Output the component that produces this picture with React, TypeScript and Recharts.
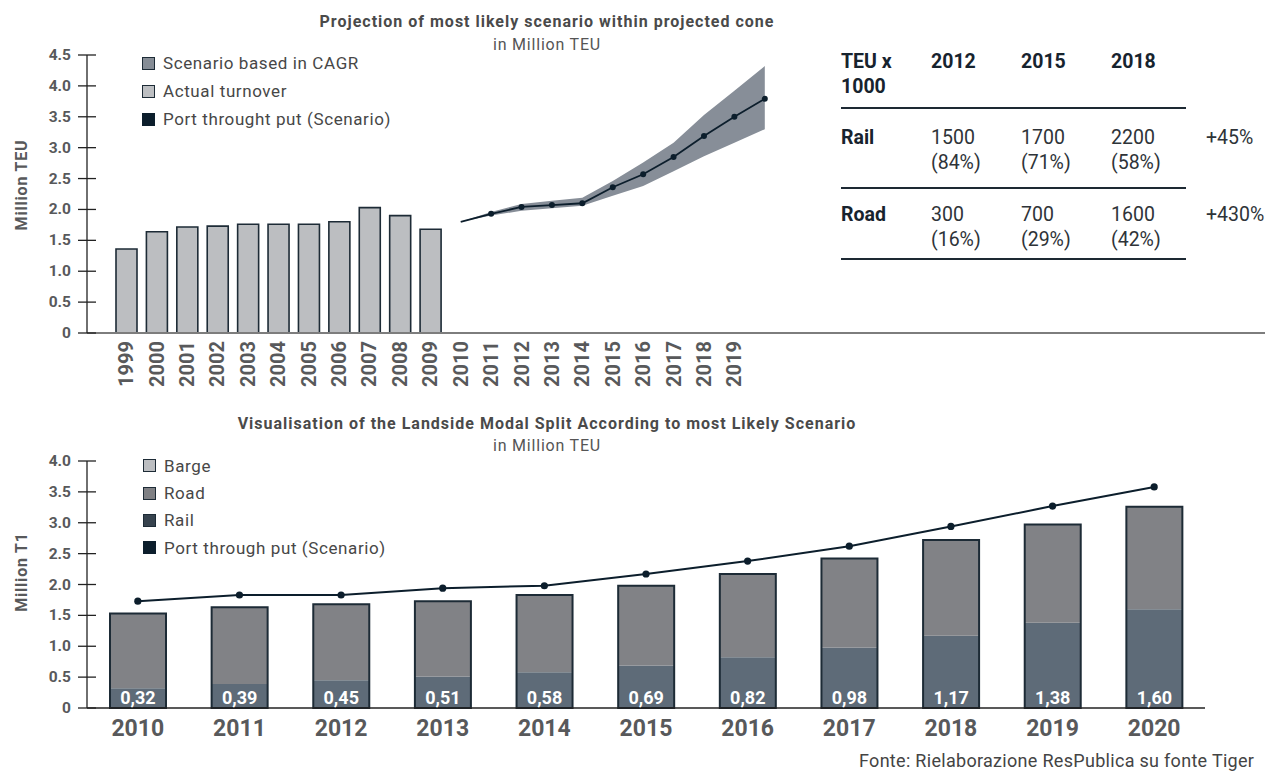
import React from 'react';
import { ComposedChart, Bar, Line, Area, XAxis, YAxis, Legend, LabelList } from 'recharts';

const FONT = 'Roboto, "Liberation Sans", sans-serif';
const AXIS_TEXT = '#58595b';
const NAVY = '#0c1e2c';
const OUTLINE = '#1d2b36';

// ---------- Top chart data ----------
const topTitle = 'Projection of most likely scenario within projected cone';
const topSubtitle = 'in Million TEU';
const topYLabel = 'Million TEU';
const topYears = ['1999', '2000', '2001', '2002', '2003', '2004', '2005', '2006', '2007', '2008', '2009', '2010', '2011', '2012', '2013', '2014', '2015', '2016', '2017', '2018', '2019', '2020'];
const topTickLabels = ['1999', '2000', '2001', '2002', '2003', '2004', '2005', '2006', '2007', '2008', '2009', '2010', '2011', '2012', '2013', '2014', '2015', '2016', '2017', '2018', '2019'];
const actualYears = ['1999', '2000', '2001', '2002', '2003', '2004', '2005', '2006', '2007', '2008', '2009'];
const actualTurnover = [1.36, 1.64, 1.715, 1.73, 1.76, 1.76, 1.76, 1.8, 2.03, 1.9, 1.68];
const projectionYears = ['2010', '2011', '2012', '2013', '2014', '2015', '2016', '2017', '2018', '2019', '2020'];
const portThroughputTop = [1.8, 1.93, 2.04, 2.07, 2.1, 2.36, 2.57, 2.85, 3.19, 3.5, 3.79];
const coneLow = [1.8, 1.9, 1.98, 2.02, 2.06, 2.22, 2.38, 2.62, 2.86, 3.08, 3.3];
const coneHigh = [1.8, 1.96, 2.09, 2.14, 2.19, 2.46, 2.76, 3.08, 3.53, 3.92, 4.32];
const topYTicks = [0, 0.5, 1, 1.5, 2, 2.5, 3, 3.5, 4, 4.5];
const topLegendNames = ['Scenario based in CAGR', 'Actual turnover', 'Port throught put (Scenario)'];
const topLegendColors = ['#868d96', '#bdbfc2', NAVY];

// ---------- Table data ----------
const tableCorner = ['TEU x', '1000'];
const tableYears = ['2012', '2015', '2018'];
const tableRowLabels = ['Rail', 'Road'];
const tableValues = [[1500, 1700, 2200], [300, 700, 1600]];
const tableShares = [[84, 71, 58], [16, 29, 42]];
const tableChanges = ['+45%', '+430%'];

// ---------- Bottom chart data ----------
const bottomTitle = 'Visualisation of the Landside Modal Split According to most Likely Scenario';
const bottomSubtitle = 'in Million TEU';
const bottomYLabel = 'Million T1';
const splitYears = ['2010', '2011', '2012', '2013', '2014', '2015', '2016', '2017', '2018', '2019', '2020'];
const railValues = [0.32, 0.39, 0.45, 0.51, 0.58, 0.69, 0.82, 0.98, 1.17, 1.38, 1.6];
const roadValues = [1.21, 1.24, 1.23, 1.22, 1.25, 1.29, 1.35, 1.44, 1.55, 1.59, 1.66];
const bargeValues = [0, 0, 0, 0, 0, 0, 0, 0, 0, 0, 0];
const portThroughputBottom = [1.73, 1.83, 1.83, 1.94, 1.98, 2.17, 2.38, 2.62, 2.94, 3.27, 3.58];
const bottomYTicks = [0, 0.5, 1, 1.5, 2, 2.5, 3, 3.5, 4];
const bottomLegendNames = ['Barge', 'Road', 'Rail', 'Port through put (Scenario)'];
const bottomLegendColors = ['#bcbec1', '#7f8084', '#37434e', NAVY];
const sourceText = 'Fonte: Rielaborazione ResPublica su fonte Tiger';

const topData = topYears.map((year) => {
  const a = actualYears.indexOf(year);
  const p = projectionYears.indexOf(year);
  return {
    year,
    actual: a >= 0 ? actualTurnover[a] : null,
    port: p >= 0 ? portThroughputTop[p] : null,
    cone: p >= 0 ? [coneLow[p], coneHigh[p]] : null,
  };
});

const bottomData = splitYears.map((year, i) => ({
  year,
  rail: railValues[i],
  road: roadValues[i],
  barge: bargeValues[i],
  total: railValues[i] + roadValues[i] + bargeValues[i],
  port: portThroughputBottom[i],
}));

const makeYTick = (lineColor: string) => (props: any) => {
  const { x, y, payload } = props;
  const v = payload.value as number;
  const label = v === 0 ? '0' : v.toFixed(1);
  return (
    <g>
      <line x1={x - 9} x2={x + 9} y1={y} y2={y} stroke={lineColor} strokeWidth={1.3} />
      <text x={x - 16} y={y} textAnchor="end" dominantBaseline="central" fontFamily={FONT} fontWeight={700} fontSize={15.5} fill={AXIS_TEXT}>
        {label}
      </text>
    </g>
  );
};

const TopXTick = (props: any) => {
  const { x, y, payload } = props;
  if (!topTickLabels.includes(payload.value)) return <g />;
  return (
    <text transform={`translate(${x},${y + 8}) rotate(-90)`} textAnchor="end" dominantBaseline="central" fontFamily={FONT} fontWeight={700} fontSize={20} fill={AXIS_TEXT}>
      {payload.value}
    </text>
  );
};

const BottomXTick = (props: any) => {
  const { x, y, payload } = props;
  return (
    <text x={x} y={y + 28} textAnchor="middle" fontFamily={FONT} fontWeight={700} fontSize={23} fill={AXIS_TEXT}>
      {payload.value}
    </text>
  );
};

const TopDot = (p: any) => {
  if (p.value == null || p.cy == null || p.payload?.year === projectionYears[0]) return <g key={p.key} />;
  return <circle key={p.key} cx={p.cx} cy={p.cy} r={3} fill={NAVY} />;
};

const BottomDot = (p: any) => {
  if (p.cy == null) return <g key={p.key} />;
  return <circle key={p.key} cx={p.cx} cy={p.cy} r={3.6} fill={NAVY} />;
};

const RailLabel = (p: any) => {
  const { x, y, width, height, value } = p;
  return (
    <text x={x + width / 2} y={y + height - 4} textAnchor="middle" fontFamily={FONT} fontWeight={700} fontSize={18} fill="#ffffff">
      {Number(value).toFixed(2).replace('.', ',')}
    </text>
  );
};

const legendContent = (names: string[], colors: string[], rowH: number) => () => (
  <div style={{ fontFamily: FONT }}>
    {names.map((n, i) => (
      <div key={n} style={{ display: 'flex', alignItems: 'center', height: rowH }}>
        <div
          style={{
            width: 13,
            height: 13,
            boxSizing: 'border-box',
            background: colors[i],
            border: `1.6px solid ${i === names.length - 1 ? colors[i] : OUTLINE}`,
            marginRight: 8,
          }}
        />
        <span style={{ fontSize: 17, letterSpacing: 0.6, color: '#474747', whiteSpace: 'nowrap' }}>{n}</span>
      </div>
    ))}
  </div>
);

const centered = (text: string, cx: number, cy: number, size: number, weight: number, color: string, spacing: number) => (
  <div
    style={{
      position: 'absolute',
      left: cx - 400,
      top: cy - 12,
      width: 800,
      height: 24,
      lineHeight: '24px',
      textAlign: 'center',
      fontSize: size,
      fontWeight: weight,
      letterSpacing: spacing,
      color,
      whiteSpace: 'nowrap',
    }}
  >
    {text}
  </div>
);

const rotatedLabel = (text: string, cx: number, cy: number) => (
  <div
    style={{
      position: 'absolute',
      left: cx - 100,
      top: cy - 10,
      width: 200,
      height: 20,
      lineHeight: '20px',
      textAlign: 'center',
      fontSize: 16,
      fontWeight: 700,
      letterSpacing: 0.8,
      color: AXIS_TEXT,
      transform: 'rotate(-90deg)',
      whiteSpace: 'nowrap',
    }}
  >
    {text}
  </div>
);

const cell = (text: string, left: number, cy: number, bold: boolean, key: string) => (
  <div
    key={key}
    style={{
      position: 'absolute',
      left,
      top: cy - 12,
      height: 24,
      lineHeight: '24px',
      fontSize: 19.5,
      fontWeight: bold ? 700 : 400,
      color: bold ? '#17232e' : '#2e3338',
      whiteSpace: 'nowrap',
    }}
  >
    {text}
  </div>
);

const Table = () => {
  const colX = [931, 1021, 1111];
  const rowY = [[138, 163], [215, 240]];
  const items: React.ReactNode[] = [];
  items.push(cell(tableCorner[0], 841, 62, true, 'c0'));
  items.push(cell(tableCorner[1], 841, 87, true, 'c1'));
  tableYears.forEach((y, j) => items.push(cell(y, colX[j], 62, true, 'h' + j)));
  tableRowLabels.forEach((lab, r) => {
    items.push(cell(lab, 841, rowY[r][0], true, 'l' + r));
    tableValues[r].forEach((v, j) => {
      items.push(cell(String(v), colX[j], rowY[r][0], false, `v${r}${j}`));
      items.push(cell(`(${tableShares[r][j]}%)`, colX[j], rowY[r][1], false, `s${r}${j}`));
    });
    items.push(cell(tableChanges[r], 1206, rowY[r][0], false, 'ch' + r));
  });
  [108, 188, 259].forEach((ly, k) =>
    items.push(<div key={'ln' + k} style={{ position: 'absolute', left: 841, top: ly - 1, width: 345, height: 1.6, background: '#1d2933' }} />)
  );
  return <>{items}</>;
};

export default function App() {
  return (
    <div style={{ position: 'absolute', left: 0, top: 0, width: 1271, height: 772, overflow: 'hidden', background: '#fff', fontFamily: FONT }}>
      {/* Top chart */}
      <div style={{ position: 'absolute', left: 0, top: 0 }}>
        <ComposedChart width={1271} height={400} data={topData} margin={{ top: 55, right: 6, bottom: 7, left: 0 }}>
          <XAxis
            dataKey="year"
            interval={0}
            padding={{ left: 24, right: 485 }}
            tickLine={false}
            tickSize={0}
            tickMargin={0}
            height={60}
            tick={<TopXTick />}
            axisLine={{ stroke: '#7d7d7d', strokeWidth: 2 }}
          />
          <YAxis
            width={87}
            domain={[0, 4.5]}
            ticks={topYTicks}
            interval={0}
            tickLine={false}
            tickSize={0}
            tickMargin={0}
            tick={makeYTick('#222')}
            axisLine={{ stroke: '#222', strokeWidth: 1.3 }}
          />
          <Area dataKey="cone" fill="#878e98" fillOpacity={1} stroke="none" isAnimationActive={false} connectNulls={false} />
          <Bar dataKey="actual" barSize={21} fill="#bcbec1" stroke={OUTLINE} strokeWidth={1.6} isAnimationActive={false} />
          <Line dataKey="port" stroke={NAVY} strokeWidth={1.8} dot={<TopDot />} activeDot={false} isAnimationActive={false} />
          <Legend
            layout="horizontal"
            verticalAlign="middle"
            align="center"
            content={legendContent(topLegendNames, topLegendColors, 28)}
            wrapperStyle={{ left: 142, top: 49, width: 300, height: 90 }}
          />
        </ComposedChart>
      </div>
      {centered(topTitle, 547, 22, 16, 700, '#4a4a4a', 1)}
      {centered(topSubtitle, 547, 45, 16, 400, '#555', 0.8)}
      {rotatedLabel(topYLabel, 22, 185)}
      <Table />

      {/* Bottom chart */}
      <div style={{ position: 'absolute', left: 0, top: 400 }}>
        <ComposedChart width={1271} height={372} data={bottomData} margin={{ top: 61, right: 66, bottom: 24, left: 0 }}>
          <XAxis
            xAxisId="main"
            dataKey="year"
            interval={0}
            tickLine={false}
            tickSize={0}
            tickMargin={0}
            height={40}
            tick={<BottomXTick />}
            axisLine={{ stroke: '#222', strokeWidth: 1.5 }}
          />
          <XAxis xAxisId="outline" dataKey="year" hide />
          <YAxis
            width={87}
            domain={[0, 4]}
            ticks={bottomYTicks}
            interval={0}
            tickLine={false}
            tickSize={0}
            tickMargin={0}
            tick={makeYTick('#222')}
            axisLine={{ stroke: '#222', strokeWidth: 1.3 }}
          />
          <Bar xAxisId="main" dataKey="rail" stackId="s" barSize={56} fill="#5e6b78" isAnimationActive={false}>
            <LabelList dataKey="rail" content={<RailLabel />} />
          </Bar>
          <Bar xAxisId="main" dataKey="road" stackId="s" barSize={56} fill="#818286" isAnimationActive={false} />
          <Bar xAxisId="main" dataKey="barge" stackId="s" barSize={56} fill="#bcbec1" isAnimationActive={false} />
          <Bar xAxisId="outline" dataKey="total" barSize={56} fill="none" stroke={OUTLINE} strokeWidth={2} isAnimationActive={false} />
          <Line xAxisId="main" dataKey="port" stroke={NAVY} strokeWidth={2} dot={<BottomDot />} activeDot={false} isAnimationActive={false} />
          <Legend
            layout="horizontal"
            verticalAlign="middle"
            align="center"
            content={legendContent(bottomLegendNames, bottomLegendColors, 27.4)}
            wrapperStyle={{ left: 143, top: 52, width: 300, height: 110 }}
          />
        </ComposedChart>
      </div>
      {centered(bottomTitle, 547, 424, 16, 700, '#4a4a4a', 1)}
      {centered(bottomSubtitle, 547, 446, 16, 400, '#555', 0.8)}
      {rotatedLabel(bottomYLabel, 22, 572)}
      <div style={{ position: 'absolute', left: 859, top: 749, height: 24, lineHeight: '24px', fontSize: 18, letterSpacing: 0.3, color: '#444', whiteSpace: 'nowrap' }}>
        {sourceText}
      </div>
    </div>
  );
}
